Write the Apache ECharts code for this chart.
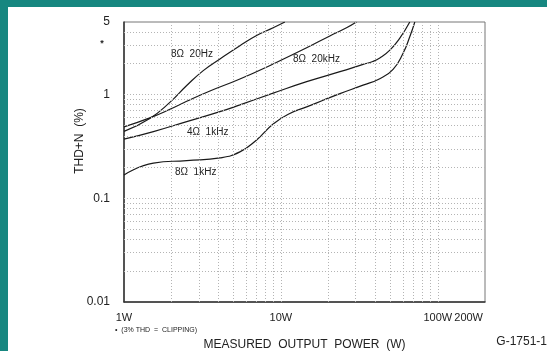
<!DOCTYPE html>
<html>
<head>
<meta charset="utf-8">
<script src="https://cdn.jsdelivr.net/npm/echarts@6/dist/echarts.min.js"></script>
<style>
  html, body { margin: 0; padding: 0; background: #fff; }
  #frame {
    position: absolute; left: 0; top: 0; width: 547px; height: 351px;
    box-sizing: border-box; background: #fff;
    border-left: 8px solid #178780; border-top: 7px solid #178780;
  }
  #chart { position: absolute; left: 0; top: 0; width: 547px; height: 351px; }
</style>
</head>
<body>
<div id="frame"></div>
<div id="chart"></div>
<script>
// measured output power (W) and THD+N (%) for each curve
const power8ohm20Hz = [1, 1.46, 1.96, 2.51, 3.2, 4.09, 5.48, 7.0, 8.93, 10.6]
const thd8ohm20Hz = [0.441, 0.588, 0.84, 1.22, 1.7, 2.2, 2.95, 3.7, 4.4, 5]

const power8ohm20kHz = [1, 1.46, 1.96, 2.51, 3.53, 5.48, 8.93, 14.6, 20.5, 26.2, 30.3]
const thd8ohm20kHz = [0.487, 0.595, 0.72, 0.86, 1.08, 1.41, 1.97, 2.82, 3.67, 4.4, 5]

const power4ohm1kHz = [1, 1.54, 2.51, 4.09, 5.48, 8.93, 14.6, 23.8, 33.4, 38.5, 42.7, 49.5, 57.3, 66.3]
const thd4ohm1kHz = [0.371, 0.439, 0.548, 0.684, 0.794, 1.03, 1.33, 1.66, 1.95, 2.08, 2.25, 2.68, 3.5, 5]

const power8ohm1kHz = [1, 1.54, 2.51, 4.09, 5.48, 7.0, 8.93, 11.4, 14.6, 18.6, 23.8, 33.4, 42.7, 51.9, 60.1, 66.3, 71.4]
const thd8ohm1kHz = [0.168, 0.218, 0.231, 0.245, 0.28, 0.365, 0.52, 0.655, 0.76, 0.88, 1.02, 1.23, 1.42, 1.75, 2.5, 3.6, 5]

// dotted grid positions
const gridPower = [2, 3, 4, 5, 6, 7, 8, 9, 10, 20, 30, 40, 50, 60, 70, 80, 90, 100]
const gridThd = [0.02, 0.03, 0.04, 0.05, 0.06, 0.07, 0.08, 0.09, 0.1,
  0.2, 0.3, 0.4, 0.5, 0.6, 0.7, 0.8, 0.9, 1, 2, 3, 4]

const curveNames = ['8Ω  20Hz', '8Ω  20kHz', '4Ω  1kHz', '8Ω  1kHz']
const maxPowerLabel = '200W'

const chart = echarts.init(document.getElementById('chart'))

const font = '"Liberation Sans", Arial, sans-serif'
const pair = (xs, ys) => xs.map((x, i) => [x, ys[i]])

const curve = (name, xs, ys) => ({
  name: name,
  type: 'line',
  data: pair(xs, ys),
  smooth: 0.5,
  showSymbol: false,
  silent: true,
  clip: true,
  lineStyle: { color: '#1a1a1a', width: 1.2 }
})

const gridLines = {
  silent: true,
  symbol: ['none', 'none'],
  animation: false,
  label: { show: false },
  lineStyle: { color: '#b4b4b4', width: 1, type: [1, 2] },
  data: gridPower.map(v => ({ xAxis: v })).concat(gridThd.map(v => ({ yAxis: v })))
}

const s1 = curve(curveNames[0], power8ohm20Hz, thd8ohm20Hz)
s1.markLine = gridLines

const label = (text, x, y, size) => ({
  type: 'text', x: x, y: y,
  style: { text: text, fill: '#222', font: size + 'px ' + font, verticalAlign: 'middle' }
})

const option = {
  animation: false,
  grid: {
    left: 124, top: 22, right: 62, bottom: 49,
    outerBoundsMode: 'none',
    containLabel: false,
    show: true, borderColor: '#777', borderWidth: 1
  },
  xAxis: {
    type: 'log',
    min: 1,
    max: 200,
    logBase: 10,
    axisLine: { lineStyle: { color: '#333', width: 1.5 } },
    axisTick: { show: false },
    splitLine: { show: false },
    axisLabel: {
      color: '#222', fontSize: 11, fontFamily: font, margin: 10,
      showMaxLabel: false,
      formatter: v => v + 'W'
    },
    name: 'MEASURED  OUTPUT  POWER  (W)',
    nameLocation: 'middle',
    nameGap: 37,
    nameTextStyle: { color: '#222', fontSize: 12, fontFamily: font }
  },
  yAxis: {
    type: 'log',
    min: 0.01,
    max: 5,
    logBase: 10,
    axisLine: { show: true, lineStyle: { color: '#333', width: 1.5 } },
    axisTick: { show: false },
    splitLine: { show: false },
    axisLabel: {
      color: '#222', fontSize: 12, fontFamily: font, margin: 14,
      formatter: v => String(v)
    }
  },
  graphic: [
    { type: 'text', x: 80, y: 141, rotation: Math.PI / 2,
      style: { text: 'THD+N  (%)', fill: '#222', font: '12px ' + font, align: 'center', verticalAlign: 'middle' } },
    { type: 'text', x: 102, y: 44, style: { text: '*', fill: '#222', font: 'bold 9px ' + font, align: 'center', verticalAlign: 'middle' } },
    label('•  (3% THD  =  CLIPPING)', 115, 330, 7),
    { type: 'text', x: 483, y: 318, style: { text: maxPowerLabel, fill: '#222', font: '11px ' + font, align: 'right', verticalAlign: 'middle' } },
    { type: 'text', x: 547, y: 342, style: { text: 'G-1751-1', fill: '#222', font: '12px ' + font, align: 'right', verticalAlign: 'middle' } },
    label(curveNames[0], 171, 54, 10),
    label(curveNames[1], 293, 59, 10),
    label(curveNames[2], 187, 132, 10),
    label(curveNames[3], 175, 172, 10)
  ],
  series: [
    s1,
    curve(curveNames[1], power8ohm20kHz, thd8ohm20kHz),
    curve(curveNames[2], power4ohm1kHz, thd4ohm1kHz),
    curve(curveNames[3], power8ohm1kHz, thd8ohm1kHz)
  ]
}

chart.setOption(option)
</script>
</body>
</html>
